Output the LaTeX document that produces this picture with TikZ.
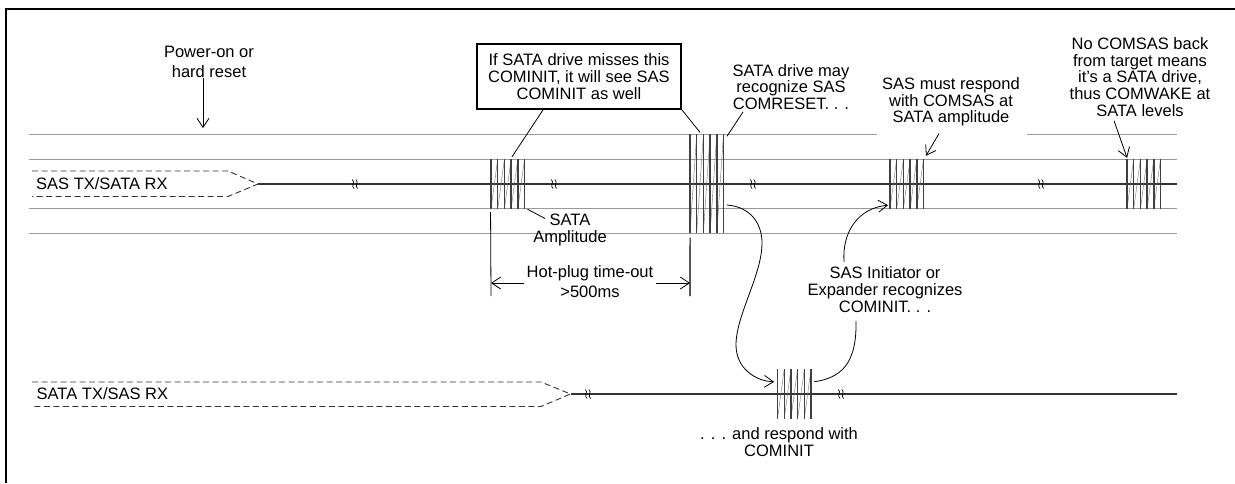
\documentclass[tikz,border=0pt]{standalone}
\usepackage{fontspec}
\setmainfont{Liberation Sans}
\usetikzlibrary{positioning, arrows.meta}

\newcommand{\burstwave}[3]{
    \draw[wave] (#1,#3) \foreach \k in {0,...,4} { -- ++(6.7,{#2-#3}) -- ++(0,{#3-#2}) };
    \foreach \k in {0,...,5} {
        \draw[wavebar] (#1+\k*6.7,#2) -- (#1+\k*6.7,#3);
    }
}
\newcommand{\breakmark}[2]{
    \draw[line width=0.7pt] (#1-2.8,#2-4.5) .. controls (#1+0.8,#2-2) and (#1-4.6,#2+2) .. (#1-1,#2+4.5);
    \draw[line width=0.7pt] (#1+0.8,#2-4.5) .. controls (#1+4.4,#2-2) and (#1-1,#2+2) .. (#1+2.6,#2+4.5);
}

\begin{document}
\begin{tikzpicture}[
    x=1pt, y=-1pt,
    every node/.style={align=center, inner sep=0pt, font=\fontsize{16.5}{16.7}\selectfont},
    guide/.style={draw=black!40, line width=0.8pt},
    signal/.style={draw=black!80, line width=1.2pt},
    wave/.style={draw=black!55, line width=0.4pt},
    wavebar/.style={draw=black!75, line width=1.4pt},
    pennant/.style={draw=black!80, line width=0.9pt, dash pattern=on 6pt off 3.5pt},
    leader/.style={draw, line width=0.8pt},
    pointer/.style={draw, line width=0.8pt, -{Straight Barb[length=9pt, width=12pt, line width=0.8pt]}},
    burstbox/.style={minimum width=33.5pt, minimum height=50pt}
]
\useasboundingbox (0,0) rectangle (1235,483);
\draw[line width=2pt] (6,483) -- (6,8.5) -- (1235,8.5);

% guide levels
\draw[guide] (29,134) -- (877,134);
\draw[guide] (1027,134) -- (1177,134);
\foreach \y in {159,208.5,233} {
    \draw[guide] (29,\y) -- (1177,\y);
}

% SAS side
\coordinate (tipA) at (258,184);
\coordinate (endA) at (1177,184);
\draw[pennant] (32,171) -- (228,171) -- (tipA) -- (228,196.5) -- (32,196.5);
\node[anchor=west] (sasRx) at (36,184) {SAS TX/SATA RX};
\draw[signal] (tipA) -- (endA);
\breakmark{355}{184}
\breakmark{554}{184}
\breakmark{753}{184}
\breakmark{1041}{184}

\node[burstbox] (burstA) at (507.5,184) {};
\node[burstbox, minimum height=99pt] (burstB) at (707,184) {};
\node[burstbox] (burstC) at (907,184) {};
\node[burstbox] (burstD) at (1144,184) {};
\burstwave{491}{159}{209}
\burstwave{690}{134}{233}
\burstwave{890}{159}{209}
\burstwave{1127}{159}{209}

% SATA side
\coordinate (tipB) at (570.5,394);
\coordinate (endB) at (1177,394);
\draw[pennant] (32,382) -- (541,382) -- (tipB) -- (541,406.5) -- (32,406.5);
\node[anchor=west] (sataRx) at (36.5,394) {SATA TX/SAS RX};
\draw[signal] (tipB) -- (endB);
\breakmark{588}{394}
\breakmark{841}{394}
\node[burstbox] (burstE) at (794,394) {};
\burstwave{777.5}{369}{419}

% notes
\node (resetNote) at (209,62) {Power-on or\\[3.3pt]hard reset};
\coordinate (resetEnd) at (203,128);
\draw[pointer] (resetNote.south -| resetEnd) -- (resetEnd);

\node[draw, line width=1.8pt, minimum width=204pt, minimum height=65pt] (missNote) at (579,76.5)
    {If SATA drive misses this\\COMINIT, it will see SAS\\COMINIT as well};
\draw[leader] ([xshift=-36pt]missNote.south) -- ([xshift=4.5pt,yshift=2pt]burstA.north);
\draw[leader] (missNote.south east) -- ([xshift=-7pt,yshift=2pt]burstB.north);

\node (resetSas) at (791,87) {SATA drive may\\recognize SAS\\COMRESET. . .};
\draw[leader] ([xshift=-48pt,yshift=-2pt]resetSas.south) -- ([xshift=3pt,yshift=-2pt]burstB.north east);

\node (amplNote) at (570,230) {SATA\\Amplitude};
\draw[leader] ([xshift=3pt]burstA.south east) -- ([xshift=-25pt,yshift=-4.5pt]amplNote.north);

\node (comsasNote) at (951,102) {SAS must respond\\with COMSAS at\\SATA amplitude};
\draw[pointer] ([xshift=-12pt,yshift=-7pt]comsasNote.south) -- ([xshift=2pt,yshift=3pt]burstC.north east);

\node (wakeNote) at (1140,77) {No COMSAS back\\from target means\\it's a SATA drive,\\thus COMWAKE at\\SATA levels};
\draw[pointer] ([xshift=-26pt,yshift=-4pt]wakeNote.south) -- ([yshift=1pt]burstD.north west);

% time-out span
\draw[leader] ([yshift=-3pt]burstA.south west) -- (491,296);
\draw[leader, line width=1.1pt] ([yshift=-4pt]burstB.south west) -- (690,296);
\node (timeout) at (590,282) {Hot-plug time-out\\[3.3pt]>500ms};
\draw[pointer] (timeout.west |- 0,283) ++(-3,0) -- (491,283);
\draw[pointer] (timeout.east |- 0,283) ++(3,0) -- (690,283);

% response curves
\node (respNote) at (779,442) {. . . and respond with\\COMINIT};
\node (initNote) at (885,289.5) {SAS Initiator or\\Expander recognizes\\COMINIT. . .};
\draw[pointer] ([xshift=3pt,yshift=-21pt]burstB.east) .. controls (752,207) and (762,225) .. (762,243)
    .. controls (762,275) and (736,315) .. (736,345) .. controls (736,368) and (755,381) .. ([xshift=-3pt,yshift=-13pt]burstE.north west);
\draw[leader] ([xshift=3pt,yshift=-13pt]burstE.north east) .. controls (840,378) and (857,365) .. (856,321);
\draw[pointer] (844,262) .. controls (842,232) and (858,208) .. ([xshift=-2pt,yshift=4pt]burstC.south west);
\end{tikzpicture}
\end{document}
